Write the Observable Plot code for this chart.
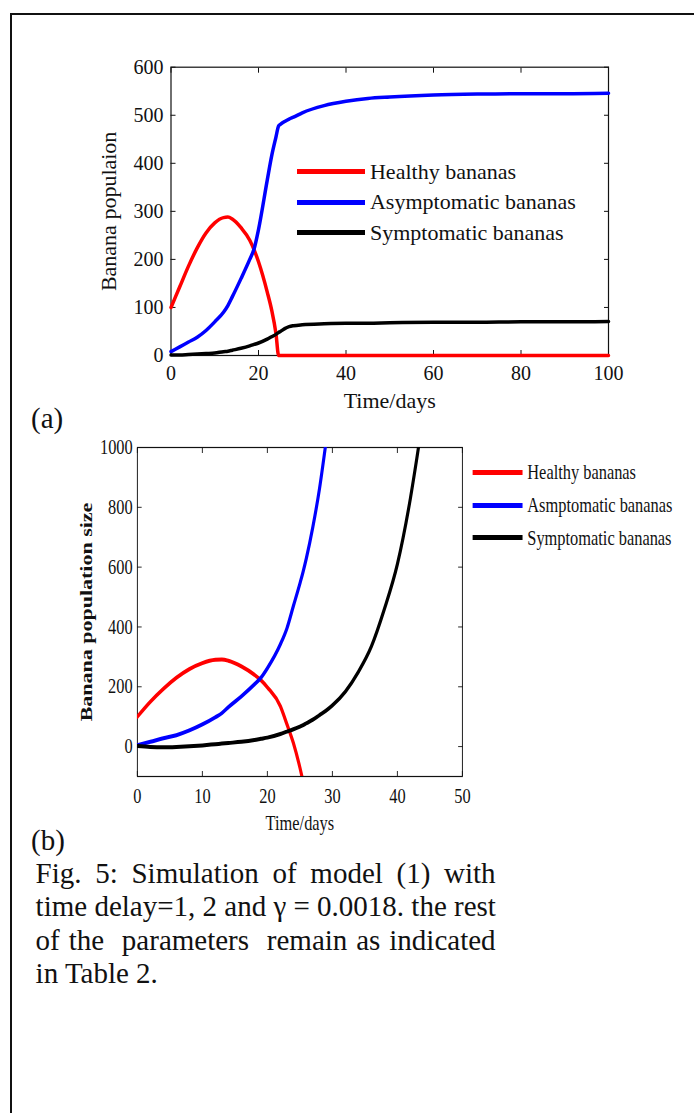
<!DOCTYPE html>
<html>
<head>
<meta charset="utf-8">
<script src="https://cdn.jsdelivr.net/npm/d3@7"></script>
<script src="https://cdn.jsdelivr.net/npm/@observablehq/plot@0.6"></script>
<style>
  html, body { margin: 0; padding: 0; background: #fff; }
  #page { position: relative; width: 694px; height: 1113px; overflow: hidden;
          font-family: "Liberation Serif", "Times New Roman", serif; color: #111; background: #fff; }
  #border { position: absolute; left: 9.5px; top: 12.5px; width: 800px; height: 1200px;
            border-left: 2px solid #111; border-top: 2px solid #111; }
  .abs { position: absolute; }
  .legend-row { position: absolute; display: flex; align-items: center; white-space: nowrap; }
  .swatch { display: inline-block; }
  .j { text-align: justify; text-align-last: justify; white-space: nowrap; }
  #chartB { position: absolute; left: 60px; top: 420px; width: 830px; height: 440px;
            transform: scaleX(0.78); transform-origin: 0 0; }
</style>
</head>
<body>
<div id="page">
  <div id="border"></div>
  <div id="chartA" class="abs" style="left:0px; top:50px;"></div>
  <div id="legendA"></div>
  <div class="abs" style="left:31px; top:404px; font-size:29px; line-height:29px;">(a)</div>
  <div id="chartB"></div>
  <div class="abs" style="left:31px; top:825.7px; font-size:29px; line-height:29px;">(b)</div>
  <div class="abs" style="left:35.6px; top:857px; width:460px; font-size:29px; line-height:33.3px;">
    <div class="j">Fig. 5: Simulation of model (1) with</div>
    <div class="j">time delay=1, 2 and γ = 0.0018. the rest</div>
    <div class="j">of the&nbsp; parameters&nbsp; remain as indicated</div>
    <div>in Table 2.</div>
  </div>
</div>
<script>
// ---------- Data: panel (a) ----------
const timesA = [0, 2, 4, 6, 8, 10, 12, 13, 14, 16, 18, 19, 20, 22, 23, 24, 24.6, 25, 26, 27, 28, 30, 35, 40, 45, 50, 60, 70, 80, 90, 100];
const healthyA = [100, 143, 186, 224, 255, 276, 287, 288, 284, 266, 240, 220, 195, 132, 95, 45, 0, 0, 0, 0, 0, 0, 0, 0, 0, 0, 0, 0, 0, 0, 0];
const asymptomaticA = [8, 18, 28, 38, 52, 70, 90, 104, 122, 160, 200, 222, 262, 365, 415, 455, 478, 481, 487, 492, 496, 505, 520, 529, 535, 538, 542, 544, 545, 545, 546];
const symptomaticA = [1, 1, 2, 3, 4, 5, 8, 9, 11, 15, 20, 23, 26, 34, 39, 44, 48, 50, 56, 60, 62, 64, 66, 67, 67, 68, 69, 69, 70, 70, 71];
const xTicksA = [0, 20, 40, 60, 80, 100];
const yTicksA = [0, 100, 200, 300, 400, 500, 600];
const namesA = ["Healthy bananas", "Asymptomatic bananas", "Symptomatic bananas"];

// ---------- Data: panel (b) ----------
const timesB = [0, 2, 4, 6, 8, 10, 12, 13, 14, 16, 18, 19, 20, 22, 23, 24, 25, 25.5, 26, 27, 28, 29, 30, 32, 34, 36, 38, 40, 42, 43, 44];
const healthyB = [100, 150, 193, 230, 259, 279, 290, 291, 287, 268, 240, 222, 198, 135, 75, 12, -70, -118, null, null, null, null, null, null, null, null, null, null, null, null, null];
const asymptomaticB = [5, 16, 28, 38, 54, 74, 98, 112, 132, 168, 208, 230, 262, 342, 395, 470, 545, 585, 630, 735, 860, 1015, null, null, null, null, null, null, null, null, null];
const symptomaticB = [2, -1, -2, -1, 1, 4, 8, 10, 12, 16, 22, 26, 30, 42, 50, 58, 67, 72, 78, 90, 105, 120, 138, 184, 250, 335, 460, 610, 830, 965, 1110];
const xTicksB = [0, 10, 20, 30, 40, 50];
const yTicksB = [0, 200, 400, 600, 800, 1000];
const namesB = ["Healthy bananas", "Asmptomatic bananas", "Symptomatic bananas"];

const colors = ["#ff0000", "#0000ff", "#000000"];

const rows = (times, values) => times.map((t, i) => ({t, v: values[i]}));
const fontFamily = "'Liberation Serif', 'Times New Roman', serif";
const fmt = d => String(d);

// inward ticks on all four sides + labels on bottom/left
function boxAxes(xt, yt, tx, ty, fs, padX, padY) {
  return [
    Plot.axisX(xt, {anchor: "bottom", tickSize: tx, dy: -tx, fill: "none"}),
    Plot.axisX(xt, {anchor: "top", tickSize: tx, dy: tx, fill: "none"}),
    Plot.axisY(yt, {anchor: "left", tickSize: ty, dx: ty, fill: "none"}),
    Plot.axisY(yt, {anchor: "right", tickSize: ty, dx: -ty, fill: "none"}),
    Plot.axisX(xt, {anchor: "bottom", tickSize: 0, tickPadding: padX, fontSize: fs, tickFormat: fmt, label: null}),
    Plot.axisY(yt, {anchor: "left", tickSize: 0, tickPadding: padY, fontSize: fs, tickFormat: fmt, label: null})
  ];
}

// ---------- Panel (a) ----------
const seriesA = [healthyA, asymptomaticA, symptomaticA];
const chartA = Plot.plot({
  width: 694, height: 370,
  marginLeft: 170.5, marginRight: 86, marginTop: 16.7, marginBottom: 65,
  style: {background: "transparent", overflow: "visible", fontFamily, fontSize: "20px", color: "#111"},
  x: {domain: [0, 100]},
  y: {domain: [0, 600]},
  marks: [
    Plot.frame({stroke: "#111", strokeWidth: 1.2}),
    ...boxAxes(xTicksA, yTicksA, 5, 5, 20, 10.5, 7.5),
    ...seriesA.map((s, i) => Plot.line(rows(timesA, s), {x: "t", y: "v", stroke: colors[i], strokeWidth: 3.5, curve: "monotone-x"})),
    Plot.text(["Banana populaion"], {text: d => d, frameAnchor: "left", dx: -62.5, rotate: -90, fontSize: 22, textAnchor: "middle", lineAnchor: "middle"}),
    Plot.text(["Time/days"], {text: d => d, frameAnchor: "bottom", dy: 45, fontSize: 22, lineAnchor: "middle"})
  ]
});
document.getElementById("chartA").appendChild(chartA);

// Legend (a)
const legendA = document.getElementById("legendA");
const legendAY = [171.7, 202.3, 232.7];
namesA.forEach((name, i) => {
  const row = document.createElement("div");
  row.className = "legend-row";
  row.style.cssText = `left:297.3px; top:${legendAY[i] - 12}px; height:24px; line-height:24px; font-size:22px;`;
  row.innerHTML = `<span class="swatch" style="width:67.7px;height:4.5px;background:${colors[i]};margin-right:5px;"></span><span>${name}</span>`;
  legendA.appendChild(row);
});

// ---------- Panel (b) ----------
const seriesB = [healthyB, asymptomaticB, symptomaticB];
const chartB = Plot.plot({
  width: 830, height: 440,
  marginLeft: 98.7, marginRight: 314.6, marginTop: 27, marginBottom: 84,
  style: {background: "transparent", overflow: "visible", fontFamily, fontSize: "21px", color: "#111"},
  x: {domain: [0, 50]},
  y: {domain: [-100, 1000]},
  marks: [
    Plot.frame({stroke: "#111", strokeWidth: 1.2}),
    ...boxAxes(xTicksB, yTicksB, 5, 6, 21, 11.5, 6),
    ...seriesB.map((s, i) => Plot.line(rows(timesB, s), {x: "t", y: "v", stroke: colors[i], strokeWidth: 4, clip: true, curve: "monotone-x"})),
    Plot.text(["Banana population size"], {text: d => d, frameAnchor: "left", dx: -65.4, rotate: -90, fontSize: 22, fontWeight: "bold", textAnchor: "middle", lineAnchor: "middle"}),
    Plot.text(["Time/days"], {text: d => d, frameAnchor: "bottom", dy: 47, fontSize: 21, lineAnchor: "middle"})
  ]
});
const cb = document.getElementById("chartB");
cb.appendChild(chartB);
const legendBY = [52.3, 85, 117.7];
namesB.forEach((name, i) => {
  const row = document.createElement("div");
  row.className = "legend-row";
  row.style.cssText = `left:529.1px; top:${legendBY[i] - 12}px; height:24px; line-height:24px; font-size:21px;`;
  row.innerHTML = `<span class="swatch" style="width:64px;height:5px;background:${colors[i]};margin-right:6px;"></span><span>${name}</span>`;
  cb.appendChild(row);
});
</script>
</body>
</html>
